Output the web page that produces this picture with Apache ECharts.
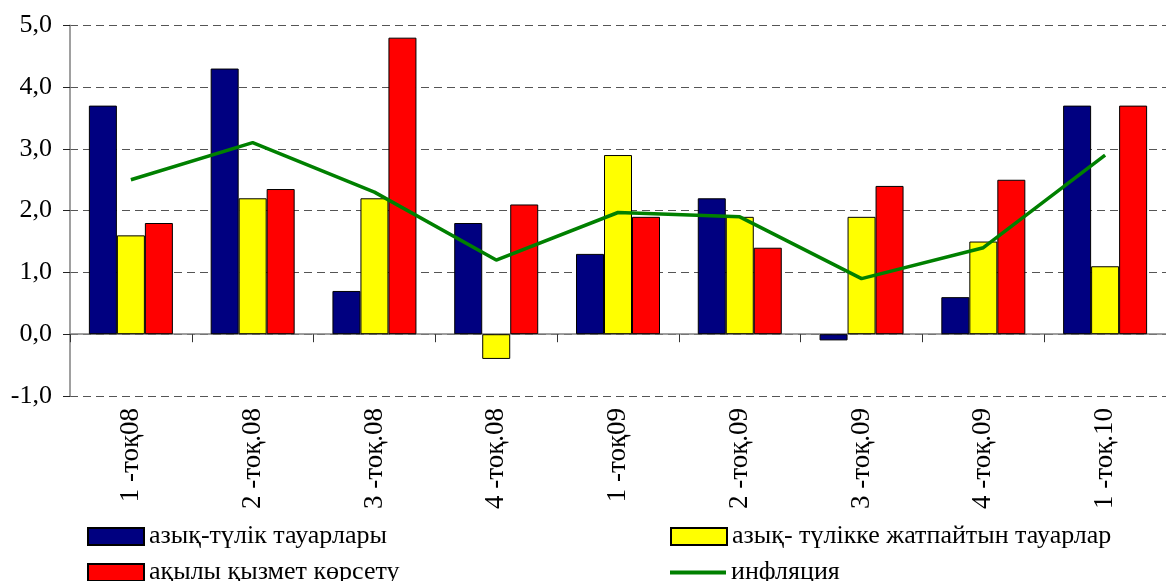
<!DOCTYPE html>
<html>
<head>
<meta charset="utf-8">
<script src="https://cdn.jsdelivr.net/npm/echarts@6/dist/echarts.min.js"></script>
<style>
  html, body { margin: 0; padding: 0; background: #ffffff; }
  #chart { width: 1166px; height: 581px; }
</style>
</head>
<body>
<div id="chart"></div>
<script>
// Quarterly price growth, %
const categories = ['1 -тоқ08', '2 -тоқ.08', '3 -тоқ.08', '4 -тоқ.08', '1 -тоқ09', '2 -тоқ.09', '3 -тоқ.09', '4 -тоқ.09', '1 -тоқ.10'];
const seriesNames = ['азық-түлік тауарлары', 'азық- түлікке жатпайтын тауарлар', 'ақылы қызмет көрсету', 'инфляция'];
const foodGoods    = [3.7, 4.3, 0.7, 1.8, 1.3, 2.2, -0.1, 0.6, 3.7];
const nonFoodGoods = [1.6, 2.2, 2.2, -0.4, 2.9, 1.9, 1.9, 1.5, 1.1];
const paidServices = [1.8, 2.35, 4.8, 2.1, 1.9, 1.4, 2.4, 2.5, 3.7];
const inflation    = [2.5, 3.1, 2.3, 1.2, 1.97, 1.9, 0.9, 1.4, 2.9];
const yMin = -1, yMax = 5, yStep = 1;

const FONT = "'Liberation Serif', 'Times New Roman', serif";
const barColors = ['#000080', '#FFFF00', '#FF0000'];
const lineColor = '#008000';

const chart = echarts.init(document.getElementById('chart'), null, { renderer: 'canvas' });

function barSeries(name, data, color) {
  return {
    name: name,
    type: 'bar',
    xAxisIndex: 0,
    data: data,
    barWidth: 28,
    barGap: '0%',
    itemStyle: { color: color, borderColor: '#000000', borderWidth: 1 },
    emphasis: { disabled: true },
    animation: false
  };
}

function legendAt(name, left, top, isLine) {
  const l = {
    data: [{ name: name, icon: 'rect' }],
    left: left,
    top: top,
    itemWidth: 56,
    itemHeight: isLine ? 4 : 17,
    padding: 0,
    selectedMode: false,
    textStyle: { fontFamily: FONT, fontSize: 26, color: '#000000' }
  };
  if (isLine) {
    l.itemStyle = { color: lineColor, borderWidth: 0 };
  }
  return l;
}

const option = {
  backgroundColor: '#ffffff',
  animation: false,
  grid: { left: 70, right: -11.4, top: 25.3, bottom: 185 },
  legend: [
    legendAt(seriesNames[0], 87, 523.5, false),
    legendAt(seriesNames[2], 87, 559.5, false),
    legendAt(seriesNames[1], 670, 523.5, false),
    legendAt(seriesNames[3], 670, 559.5, true)
  ],
  xAxis: [
    {
      type: 'category',
      data: categories,
      position: 'bottom',
      axisLine: { show: false, onZero: false },
      axisTick: { show: false },
      axisLabel: {
        rotate: 90,
        margin: 12,
        interval: 0,
        fontFamily: FONT,
        fontSize: 27,
        color: '#000000'
      },
      splitLine: { show: false }
    },
    {
      type: 'category',
      data: categories,
      position: 'bottom',
      axisLine: { show: true, onZero: true, lineStyle: { color: '#808080', width: 1.5 } },
      axisTick: { show: true, length: 8, lineStyle: { color: '#333333', width: 1 } },
      axisLabel: { show: false },
      splitLine: { show: false }
    }
  ],
  yAxis: {
    type: 'value',
    min: yMin,
    max: yMax,
    interval: yStep,
    axisLine: { show: true, lineStyle: { color: '#808080', width: 1.5 } },
    axisTick: { show: true, length: 7, lineStyle: { color: '#222222', width: 1 } },
    axisLabel: {
      margin: 18,
      fontFamily: FONT,
      fontSize: 26,
      color: '#000000',
      formatter: function (v) { return v.toFixed(1).replace('.', ','); }
    },
    splitLine: { show: true, lineStyle: { color: '#555555', width: 1, type: [8, 5] } }
  },
  series: [
    barSeries(seriesNames[0], foodGoods, barColors[0]),
    barSeries(seriesNames[1], nonFoodGoods, barColors[1]),
    barSeries(seriesNames[2], paidServices, barColors[2]),
    {
      name: seriesNames[3],
      type: 'line',
      xAxisIndex: 0,
      data: inflation,
      symbol: 'none',
      z: 5,
      lineStyle: { color: lineColor, width: 3.5 },
      itemStyle: { color: lineColor },
      emphasis: { disabled: true },
      animation: false
    }
  ]
};

chart.setOption(option);
</script>
</body>
</html>
